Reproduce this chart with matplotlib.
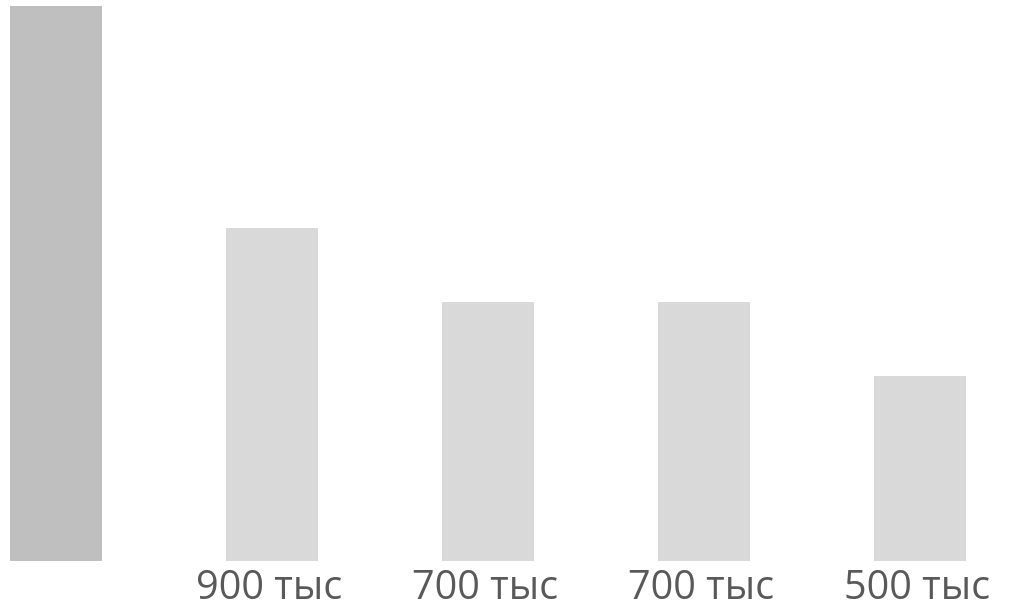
import matplotlib.pyplot as plt

# значения в тысячах
values = [1500, 900, 700, 700, 500]
labels = ["", "900 тыс", "700 тыс", "700 тыс", "500 тыс"]
colors = ["#bfbfbf", "#d9d9d9", "#d9d9d9", "#d9d9d9", "#d9d9d9"]

W, H = 1023, 611
fig = plt.figure(figsize=(W / 100, H / 100), dpi=100)
ax = fig.add_axes([0, 50 / H, 1, 561 / H])

x = list(range(len(values)))
ax.bar(x, values, width=92 / 216, color=colors)

for i, lab in enumerate(labels):
    if lab:
        ax.annotate(lab, (i, 0), xytext=(-3, -38), textcoords="offset pixels",
                    ha="center", va="baseline", fontsize=28.5,
                    family=["Open Sans", "DejaVu Sans"], color="#595959",
                    annotation_clip=False)

ax.set_xlim(-56 / 216, (W - 56) / 216)
ax.set_ylim(0, 561 / 37 * 100)
ax.axis("off")

fig.savefig("out.png", dpi=100)
